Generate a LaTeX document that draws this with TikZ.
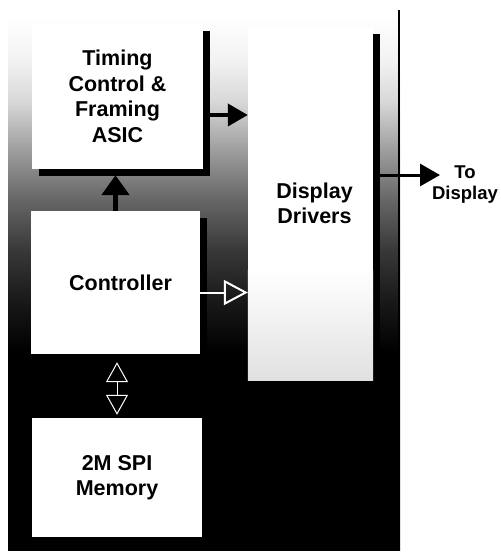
\documentclass[tikz,border=0pt]{standalone}
\usepackage{fontspec}
\setmainfont{Liberation Sans}
\usetikzlibrary{arrows.meta, shadows}

% Panel fading from white (top) to black (bottom)
\pgfdeclareverticalshading{panelfade}{100bp}{color(0bp)=(black); color(43.5bp)=(black);
  color(48.4bp)=(black!90); color(53bp)=(black!78); color(57.7bp)=(black!60);
  color(62.4bp)=(black!38); color(67bp)=(black!15); color(70.8bp)=(black!5);
  color(75bp)=(white); color(100bp)=(white)}

\tikzset{
  blockbox/.style={fill=white, inner sep=0pt, align=center,
    font=\fontsize{21.5}{25.5}\selectfont\bfseries,
    drop shadow={shadow xshift=7pt, shadow yshift=-7pt, fill=black, opacity=1}},
  solidarrow/.style={draw=black, line width=4pt, -{Triangle[width=22pt, length=20pt]}},
  hollowarrow/.style={draw=white, line width=2pt, -{Triangle[open, width=25pt, length=24pt]}},
}

\begin{document}
\begin{tikzpicture}[x=1pt, y=-1pt]
  \useasboundingbox (0,0) rectangle (501,552);

  % Background panel
  \fill[shading=panelfade] (8,15) rectangle (400,550);
  \draw[line width=2.5pt] (399,10) -- (399,550);

  % Blocks
  \node[blockbox, minimum width=171pt, minimum height=145pt] (timing) at (117.5,96.5)
    {Timing\\Control \&\\Framing\\ASIC};
  \node[blockbox, minimum width=125pt, minimum height=353pt] (drivers) at (310.5,203.5)
    {\hspace*{8pt}Display\\\hspace*{8pt}Drivers};
  \node[blockbox, minimum width=169pt, minimum height=143pt] (ctrl) at (115.5,282.5)
    {\hspace*{10pt}Controller};
  \node[blockbox, minimum width=170pt, minimum height=119pt] (mem) at (117,477.5)
    {2M SPI\\Memory};

  % Grey haze on the lower part of the drivers block
  \shade[top color=white, bottom color=black!12] (drivers.west |- 0,270) rectangle (drivers.south east);

  % Output label
  \coordinate (out) at (440,175);
  \node[font=\fontsize{18.5}{21}\selectfont\bfseries, align=center] (todisp) at (465,185)
    {To\\Display};

  % Connectors
  \draw[solidarrow] ([yshift=-18.5pt]timing.east) -- ([yshift=-18.5pt]timing.east -| drivers.west);
  \draw[solidarrow, line width=5.5pt, -{Triangle[width=27pt, length=20pt]}, shorten >=6pt]
    (ctrl.north) -- (ctrl.north |- timing.south);
  \draw[hollowarrow] ([yshift=-10pt]ctrl.east) -- ([yshift=-10pt]ctrl.east -| drivers.west);
  \draw[draw=white, line width=1pt, {Triangle[open, width=22pt, length=20pt]}-{Triangle[open, width=22pt, length=20pt]},
    shorten <=3pt, shorten >=8pt] (mem.north) -- (mem.north |- ctrl.south);
  \draw[solidarrow, line width=3pt] ([yshift=28.5pt]drivers.east) -- (out);
\end{tikzpicture}
\end{document}
